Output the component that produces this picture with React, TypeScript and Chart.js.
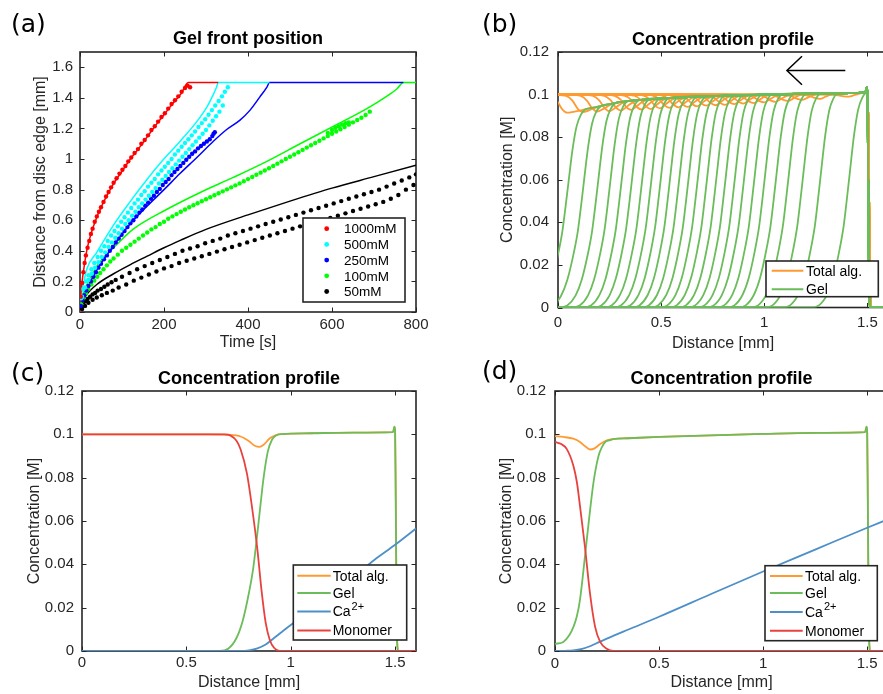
import React, { useEffect, useRef } from 'react';
import { Chart, registerables } from 'chart.js';

Chart.register(...registerables);

const FONT = '"Liberation Sans", Arial, Helvetica, sans-serif';
const LABEL_FONT = '"DejaVu Sans", Verdana, sans-serif';
const AXIS_COLOR = '#262626';

// ---------------- Panel (a): gel front position ----------------
const timeTicks = [0, 200, 400, 600, 800];
const frontTicks = [0, 0.2, 0.4, 0.6, 0.8, 1, 1.2, 1.4, 1.6];
const caLabels = ['1000mM', '500mM', '250mM', '100mM', '50mM'];
const caColors = ['#ff0000', '#00ffff', '#0000ff', '#00ff00', '#000000'];

const model1000T = [0, 2, 5, 10, 16, 25, 40, 60, 80, 100, 120, 140, 160, 180, 200, 220, 240, 258, 329];
const model1000D = [0, 0.12, 0.2, 0.3, 0.4, 0.5, 0.62, 0.74, 0.84, 0.92, 1.0, 1.07, 1.145, 1.22, 1.29, 1.36, 1.425, 1.5, 1.5];
const model500T = [0, 3, 8, 16, 40, 79, 119, 159, 198, 238, 278, 302, 317, 325, 329, 451];
const model500D = [0, 0.1, 0.18, 0.28, 0.39, 0.565, 0.72, 0.865, 0.995, 1.115, 1.245, 1.34, 1.42, 1.47, 1.5, 1.5];
const model250T = [0, 5, 16, 40, 79, 119, 159, 200, 238, 280, 317, 350, 381, 405, 428, 445, 451, 770];
const model250D = [0, 0.07, 0.145, 0.275, 0.43, 0.575, 0.69, 0.8, 0.905, 1.015, 1.115, 1.195, 1.255, 1.32, 1.405, 1.47, 1.5, 1.5];
const model100T = [0, 5, 15, 40, 80, 126, 206, 285, 365, 445, 524, 604, 683, 730, 755, 770, 800];
const model100D = [0, 0.09, 0.17, 0.3, 0.42, 0.54, 0.67, 0.78, 0.88, 0.985, 1.1, 1.215, 1.33, 1.41, 1.46, 1.5, 1.5];
const model50T = [0, 5, 15, 40, 80, 120, 160, 200, 240, 300, 400, 500, 600, 700, 800];
const model50D = [0, 0.06, 0.11, 0.18, 0.25, 0.31, 0.365, 0.42, 0.47, 0.54, 0.635, 0.725, 0.81, 0.885, 0.96];

const exp1000T = [2, 5, 8, 11, 14, 18, 22, 26, 30, 35, 40, 45, 50, 56, 62, 68, 74, 80, 87, 94, 101, 108, 115, 122, 130, 138, 146, 154, 162, 170, 178, 186, 194, 202, 210, 218, 226, 234, 242, 250, 256, 262];
const exp1000D = [0.1, 0.19, 0.26, 0.32, 0.37, 0.42, 0.465, 0.51, 0.545, 0.59, 0.625, 0.655, 0.685, 0.72, 0.755, 0.785, 0.815, 0.845, 0.875, 0.905, 0.93, 0.955, 0.985, 1.01, 1.04, 1.065, 1.1, 1.125, 1.155, 1.19, 1.215, 1.245, 1.275, 1.3, 1.33, 1.36, 1.385, 1.41, 1.44, 1.465, 1.48, 1.47];

const exp500aT = [3, 8, 14, 20, 27, 34, 42, 50, 58, 66, 74, 82, 90, 98, 106, 114, 122, 130, 138, 146, 154, 162, 170, 178, 186, 194, 202, 210, 218, 226, 234, 242, 250, 258, 266, 274, 282, 290, 298, 306, 314, 322, 330, 338, 345, 352];
const exp500aD = [0.09, 0.15, 0.2, 0.24, 0.28, 0.32, 0.36, 0.4, 0.43, 0.465, 0.5, 0.53, 0.56, 0.59, 0.62, 0.65, 0.68, 0.71, 0.735, 0.765, 0.79, 0.82, 0.845, 0.87, 0.9, 0.925, 0.95, 0.975, 1.0, 1.03, 1.055, 1.08, 1.105, 1.13, 1.155, 1.18, 1.21, 1.235, 1.26, 1.29, 1.32, 1.35, 1.38, 1.41, 1.44, 1.47];
const exp500bT = [5, 12, 20, 28, 36, 44, 52, 60, 68, 76, 84, 92, 100, 108, 116, 124, 132, 140, 148, 156, 164, 172, 180, 188, 196, 204, 212, 220, 228, 236, 244, 252, 260, 268, 276, 284, 292, 300, 308, 316, 324, 332, 340];
const exp500bD = [0.1, 0.16, 0.21, 0.25, 0.29, 0.325, 0.36, 0.39, 0.425, 0.455, 0.485, 0.515, 0.545, 0.575, 0.6, 0.63, 0.655, 0.685, 0.71, 0.735, 0.76, 0.785, 0.81, 0.84, 0.865, 0.89, 0.915, 0.94, 0.965, 0.99, 1.015, 1.04, 1.065, 1.09, 1.115, 1.14, 1.165, 1.19, 1.22, 1.25, 1.28, 1.31, 1.35];

const exp250T = [2, 6, 10, 15, 20, 26, 32, 38, 44, 50, 57, 64, 71, 78, 85, 92, 99, 106, 113, 120, 127, 134, 141, 148, 155, 162, 169, 176, 183, 190, 197, 204, 211, 218, 225, 232, 239, 246, 253, 260, 267, 274, 281, 288, 295, 302, 309, 315, 318, 321];
const exp250D = [0.04, 0.08, 0.11, 0.14, 0.17, 0.2, 0.23, 0.26, 0.29, 0.315, 0.345, 0.37, 0.4, 0.425, 0.455, 0.48, 0.505, 0.53, 0.555, 0.58, 0.6, 0.625, 0.65, 0.67, 0.695, 0.715, 0.74, 0.76, 0.785, 0.805, 0.83, 0.85, 0.87, 0.895, 0.915, 0.935, 0.955, 0.975, 0.995, 1.015, 1.035, 1.05, 1.07, 1.085, 1.1, 1.115, 1.13, 1.15, 1.165, 1.175];

const exp100aT = [3, 8, 14, 20, 27, 34, 41, 48, 56, 64, 72, 80, 90, 100, 110, 120, 130, 140, 150, 160, 170, 180, 190, 200, 210, 220, 230, 240, 250, 260, 270, 280, 290, 300, 310, 320, 330, 340, 350, 360, 370, 380, 390, 400, 410, 420, 430, 440, 450, 460, 470, 480, 490, 500, 510, 520, 530, 540, 550, 560, 570, 580, 590, 600, 610, 620, 630, 640, 650, 660, 670, 680, 690];
const exp100aD = [0.05, 0.09, 0.12, 0.15, 0.18, 0.205, 0.23, 0.255, 0.28, 0.305, 0.33, 0.35, 0.375, 0.4, 0.42, 0.44, 0.46, 0.48, 0.5, 0.52, 0.54, 0.555, 0.575, 0.59, 0.61, 0.625, 0.64, 0.655, 0.67, 0.685, 0.698, 0.711, 0.724, 0.737, 0.75, 0.763, 0.776, 0.789, 0.802, 0.815, 0.828, 0.841, 0.855, 0.869, 0.883, 0.897, 0.911, 0.925, 0.94, 0.955, 0.97, 0.985, 1.0, 1.015, 1.03, 1.045, 1.06, 1.075, 1.09, 1.105, 1.12, 1.135, 1.15, 1.165, 1.18, 1.195, 1.21, 1.225, 1.24, 1.255, 1.27, 1.288, 1.31];
const exp100bT = [590, 600, 608, 616, 624, 632, 640];
const exp100bD = [1.17, 1.19, 1.205, 1.215, 1.225, 1.235, 1.24];

const exp50aT = [3, 8, 13, 18, 24, 30, 36, 42, 50, 58, 66, 75, 85, 100, 118, 136, 154, 172, 190, 208, 226, 244, 262, 280, 298, 316, 334, 352, 370, 388, 406, 424, 442, 460, 478, 496, 514, 532, 550, 568, 586, 604, 622, 640, 658, 676, 694, 712, 730, 748, 766, 784, 800];
const exp50aD = [0.03, 0.05, 0.07, 0.085, 0.1, 0.115, 0.125, 0.14, 0.15, 0.165, 0.18, 0.195, 0.21, 0.23, 0.255, 0.28, 0.3, 0.32, 0.34, 0.36, 0.38, 0.4, 0.415, 0.43, 0.45, 0.465, 0.48, 0.5, 0.515, 0.53, 0.545, 0.56, 0.575, 0.59, 0.605, 0.62, 0.635, 0.65, 0.665, 0.68, 0.695, 0.71, 0.725, 0.74, 0.755, 0.77, 0.785, 0.8, 0.82, 0.84, 0.86, 0.88, 0.9];
const exp50bT = [5, 12, 20, 30, 40, 52, 64, 78, 92, 110, 128, 146, 164, 182, 200, 218, 236, 254, 272, 290, 308, 326, 344, 362, 380, 398, 416, 434, 452, 470, 488, 506, 524, 542, 560, 578, 596, 614, 632, 650, 668, 686, 704, 722, 740, 758, 776, 794];
const exp50bD = [0.02, 0.04, 0.06, 0.08, 0.095, 0.11, 0.125, 0.14, 0.16, 0.18, 0.205, 0.225, 0.245, 0.265, 0.285, 0.3, 0.32, 0.335, 0.35, 0.365, 0.38, 0.395, 0.41, 0.425, 0.44, 0.455, 0.47, 0.485, 0.5, 0.515, 0.53, 0.545, 0.56, 0.575, 0.59, 0.6, 0.615, 0.63, 0.645, 0.66, 0.675, 0.69, 0.705, 0.72, 0.74, 0.765, 0.8, 0.83];

// ---------------- Panels (b)-(d): concentration profiles ----------------
const distTicks = [0, 0.5, 1, 1.5];
const concTicks = [0, 0.02, 0.04, 0.06, 0.08, 0.1, 0.12];
const profileLabels = ['Total alg.', 'Gel', 'Ca', 'Monomer'];
const profileSup = ['', '', '2+', ''];
const profileColors = ['#ff9a33', '#6abd5a', '#4d8fc8', '#e8423e'];

// (b) gel front positions (x where gel = 0.05 M) and total-alginate dip minima
const gelFronts = [0.035, 0.11, 0.18, 0.24, 0.295, 0.345, 0.395, 0.44, 0.485, 0.53, 0.575, 0.62, 0.665, 0.71, 0.755, 0.8, 0.845, 0.89, 0.94, 0.99, 1.045, 1.105, 1.175, 1.26, 1.4];
const totalDips = [0.0915, 0.0918, 0.092, 0.0922, 0.0925, 0.0928, 0.093, 0.0932, 0.0935, 0.0938, 0.094, 0.0942, 0.0945, 0.0948, 0.095, 0.0952, 0.0955, 0.0958, 0.096, 0.0963, 0.0966, 0.097, 0.0975, 0.098, 0.099];
// gel plateau behind the fronts in (b)
const plateauX = [0, 0.1, 0.15, 0.2, 0.25, 0.3, 0.4, 0.55, 0.75, 1.0, 1.3, 1.49, 1.497, 1.5];
const plateauY = [0.092, 0.0925, 0.0935, 0.0945, 0.0955, 0.0965, 0.0975, 0.0985, 0.0993, 0.1, 0.1005, 0.101, 0.1035, 0.101];
const gelDropX = [1.503, 1.508, 1.515, 1.6];
const gelDropY = [0.07, 0.01, 0, 0];
const totalDropX = [1.506, 1.511, 1.514, 1.52, 1.6];
const totalDropY = [0.08, 0.02, 0.004, 0, 0];
// front shape read from a single profile (offset from front, fraction of plateau)
const gelRiseDx = [-0.175, -0.135, -0.095, -0.065, -0.035, -0.015, 0, 0.015, 0.035, 0.055, 0.075, 0.1];
const gelRiseFrac = [0, 0.01, 0.06, 0.14, 0.27, 0.38, 0.5, 0.63, 0.8, 0.92, 0.975, 1];
const totalDipDx = [-0.13, -0.07, -0.04, -0.015, 0.01];
const totalDipFrac = [0, 0.08, 0.35, 0.8, 1];
const totalRecDx = [0.04, 0.07, 0.1];
const totalRecFrac = [0.45, 0.85, 1];
const arrowShaftX = [1.393, 1.11];
const arrowShaftY = [0.1113, 0.1113];
const arrowHeadX = [1.183, 1.11, 1.183];
const arrowHeadY = [0.118, 0.1113, 0.1046];

// (c)
const cTotalX = [0, 0.6, 0.7, 0.76, 0.8, 0.83, 0.85, 0.87, 0.9, 0.93, 0.96, 1.1, 1.3, 1.49, 1.497, 1.5, 1.503, 1.508, 1.515, 1.6];
const cTotalY = [0.1, 0.1, 0.0998, 0.099, 0.0968, 0.0946, 0.0942, 0.0952, 0.0982, 0.0997, 0.1001, 0.1005, 0.1008, 0.101, 0.1035, 0.101, 0.07, 0.01, 0, 0];
const cGelX = [0, 0.66, 0.7, 0.74, 0.77, 0.8, 0.82, 0.835, 0.85, 0.87, 0.89, 0.91, 0.93, 0.96, 1.1, 1.3, 1.49, 1.497, 1.5, 1.503, 1.508, 1.515, 1.6];
const cGelY = [0, 0, 0.001, 0.006, 0.014, 0.027, 0.038, 0.05, 0.063, 0.08, 0.092, 0.0975, 0.0995, 0.1001, 0.1005, 0.1008, 0.101, 0.1035, 0.101, 0.07, 0.01, 0, 0];
const cCaX = [0, 0.76, 0.8, 0.84, 0.88, 0.92, 0.96, 1.0, 1.1, 1.2, 1.3, 1.4, 1.5, 1.6];
const cCaY = [0, 0, 0.0003, 0.0012, 0.003, 0.006, 0.009, 0.012, 0.019, 0.027, 0.034, 0.042, 0.049, 0.0565];
const cMonoX = [0, 0.68, 0.71, 0.74, 0.76, 0.79, 0.815, 0.84, 0.86, 0.88, 0.9, 0.92, 0.94, 0.96, 1.6];
const cMonoY = [0.1, 0.1, 0.0995, 0.097, 0.093, 0.082, 0.066, 0.047, 0.028, 0.013, 0.005, 0.0015, 0.0002, 0, 0];

// (d)
const dTotalX = [0, 0.04, 0.088, 0.12, 0.145, 0.168, 0.19, 0.217, 0.249, 0.28, 0.35, 0.5, 0.75, 1.0, 1.25, 1.49, 1.497, 1.5, 1.503, 1.508, 1.515, 1.6];
const dTotalY = [0.0992, 0.0988, 0.098, 0.0965, 0.0945, 0.093, 0.0935, 0.0955, 0.0972, 0.0978, 0.0982, 0.0988, 0.0995, 0.1002, 0.1007, 0.101, 0.1035, 0.101, 0.07, 0.01, 0, 0];
const dGelX = [0, 0.04, 0.07, 0.088, 0.105, 0.12, 0.144, 0.16, 0.185, 0.209, 0.225, 0.241, 0.26, 0.28, 0.35, 0.5, 0.75, 1.0, 1.25, 1.49, 1.497, 1.5, 1.503, 1.508, 1.515, 1.6];
const dGelY = [0.0033, 0.0042, 0.0075, 0.011, 0.016, 0.0236, 0.0437, 0.0577, 0.0778, 0.09, 0.094, 0.0964, 0.0972, 0.0978, 0.0982, 0.0988, 0.0995, 0.1002, 0.1007, 0.101, 0.1035, 0.101, 0.07, 0.01, 0, 0];
const dCaX = [0, 0.05, 0.088, 0.13, 0.168, 0.2, 0.249, 0.35, 0.5, 0.75, 1.0, 1.25, 1.5, 1.6];
const dCaY = [0, 0.0001, 0.0003, 0.001, 0.0022, 0.0036, 0.0057, 0.0098, 0.0158, 0.0263, 0.0367, 0.0468, 0.0569, 0.0608];
const dMonoX = [0, 0.03, 0.056, 0.088, 0.105, 0.12, 0.144, 0.168, 0.193, 0.217, 0.249, 0.28, 1.6];
const dMonoY = [0.0965, 0.0955, 0.0933, 0.0856, 0.078, 0.067, 0.048, 0.0267, 0.011, 0.0042, 0.001, 0, 0];

// ---------------- helpers ----------------
const pts = (xs: number[], ys: number[]) => xs.map((x, i) => ({ x, y: ys[i] }));

function levelAt(x: number) {
  if (x <= plateauX[0]) return plateauY[0];
  for (let i = 1; i < plateauX.length; i++) {
    if (x <= plateauX[i]) {
      const f = (x - plateauX[i - 1]) / (plateauX[i] - plateauX[i - 1]);
      return plateauY[i - 1] + f * (plateauY[i] - plateauY[i - 1]);
    }
  }
  return plateauY[plateauY.length - 1];
}

function gelCurve(front: number) {
  const out: any[] = [];
  if (front + gelRiseDx[0] > 0) out.push({ x: 0, y: 0 });
  gelRiseDx.forEach((dx, j) => out.push({ x: front + dx, y: gelRiseFrac[j] * levelAt(front + dx) }));
  const last = front + gelRiseDx[gelRiseDx.length - 1];
  plateauX.forEach((x, j) => { if (x > last + 0.01) out.push({ x, y: plateauY[j] }); });
  return out.concat(pts(gelDropX, gelDropY));
}

function totalCurve(front: number, dip: number) {
  const out: any[] = [];
  if (front + totalDipDx[0] > 0) out.push({ x: 0, y: 0.1 });
  totalDipDx.forEach((dx, j) => out.push({ x: front + dx, y: 0.1 - totalDipFrac[j] * (0.1 - dip) }));
  totalRecDx.forEach((dx, j) => out.push({ x: front + dx, y: dip + totalRecFrac[j] * (levelAt(front + dx) - dip) }));
  const last = front + totalRecDx[totalRecDx.length - 1];
  plateauX.forEach((x, j) => { if (x > last + 0.01) out.push({ x, y: plateauY[j] }); });
  return out.concat(pts(totalDropX, totalDropY));
}

const fmtTick = (v: number) => String(Number(Number(v).toFixed(4)));

const framePlugin = {
  id: 'matlabFrame',
  beforeDatasetsDraw(chart: any) {
    const { ctx, chartArea: a, scales } = chart;
    const xs = scales.x;
    const ys = scales.y;
    const T = 4.5;
    ctx.save();
    ctx.strokeStyle = AXIS_COLOR;
    ctx.lineWidth = 1;
    ctx.beginPath();
    xs.ticks.forEach((t: any) => {
      const px = Math.round(xs.getPixelForValue(t.value)) + 0.5;
      ctx.moveTo(px, a.bottom); ctx.lineTo(px, a.bottom - T);
      ctx.moveTo(px, a.top); ctx.lineTo(px, a.top + T);
    });
    ys.ticks.forEach((t: any) => {
      const py = Math.round(ys.getPixelForValue(t.value)) + 0.5;
      ctx.moveTo(a.left, py); ctx.lineTo(a.left + T, py);
      ctx.moveTo(a.right, py); ctx.lineTo(a.right - T, py);
    });
    ctx.stroke();
    ctx.lineWidth = 1.6;
    ctx.strokeRect(a.left, a.top, a.right - a.left, a.bottom - a.top);
    ctx.restore();
  },
};

function legendPlugin(cfg: any) {
  return {
    id: 'boxLegend',
    afterDraw(chart: any) {
      const ctx = chart.ctx;
      ctx.save();
      ctx.fillStyle = '#ffffff';
      ctx.fillRect(cfg.x, cfg.y, cfg.w, cfg.h);
      ctx.strokeStyle = AXIS_COLOR;
      ctx.lineWidth = 1.6;
      ctx.strokeRect(cfg.x, cfg.y, cfg.w, cfg.h);
      cfg.labels.forEach((label: string, i: number) => {
        const cy = cfg.rows[i];
        if (cfg.marker) {
          ctx.fillStyle = cfg.colors[i];
          ctx.beginPath();
          ctx.arc(cfg.markX, cy, 2.4, 0, Math.PI * 2);
          ctx.fill();
        } else {
          ctx.strokeStyle = cfg.colors[i];
          ctx.lineWidth = 2;
          ctx.beginPath();
          ctx.moveTo(cfg.lineX0, cy);
          ctx.lineTo(cfg.lineX1, cy);
          ctx.stroke();
        }
        ctx.fillStyle = '#000000';
        ctx.textAlign = 'left';
        ctx.textBaseline = 'middle';
        ctx.font = `${cfg.fontSize}px ${FONT}`;
        ctx.fillText(label, cfg.textX, cy + 1);
        const sup = cfg.sups ? cfg.sups[i] : '';
        if (sup) {
          const w = ctx.measureText(label).width;
          ctx.font = `${Math.round(cfg.fontSize * 0.75)}px ${FONT}`;
          ctx.fillText(sup, cfg.textX + w + 1, cy - 5);
        }
      });
      ctx.restore();
    },
  };
}

function buildConfig(p: any) {
  return {
    type: 'scatter',
    data: { datasets: p.datasets },
    options: {
      animation: false,
      responsive: false,
      devicePixelRatio: 1,
      events: [],
      layout: { padding: p.padding },
      plugins: {
        legend: { display: false },
        tooltip: { enabled: false },
        title: {
          display: true,
          text: p.title,
          fullSize: false,
          color: '#000000',
          font: { family: FONT, size: 18, weight: 'bold' },
          padding: { top: 0, bottom: p.titleGap },
        },
      },
      scales: {
        x: {
          type: 'linear',
          min: p.xMin,
          max: p.xMax,
          grid: { display: false, drawTicks: false },
          border: { display: false },
          afterBuildTicks: (s: any) => { s.ticks = p.xTicks.map((v: number) => ({ value: v })); },
          afterFit: (s: any) => { s.height = p.xHeight; },
          ticks: { padding: p.xTickPad, color: AXIS_COLOR, font: { family: FONT, size: 15 }, maxRotation: 0, autoSkip: false, callback: (v: any) => fmtTick(v) },
          title: { display: true, text: p.xTitle, color: AXIS_COLOR, font: { family: FONT, size: 16 }, padding: { top: 0, bottom: p.xTitlePad } },
        },
        y: {
          type: 'linear',
          min: p.yMin,
          max: p.yMax,
          grid: { display: false, drawTicks: false },
          border: { display: false },
          afterBuildTicks: (s: any) => { s.ticks = p.yTicks.map((v: number) => ({ value: v })); },
          afterFit: (s: any) => { s.width = p.yWidth; },
          ticks: { padding: p.yTickPad, color: AXIS_COLOR, font: { family: FONT, size: 15 }, autoSkip: false, callback: (v: any) => fmtTick(v) },
          title: { display: true, text: p.yTitle, color: AXIS_COLOR, font: { family: FONT, size: 16 }, padding: { top: p.yTitlePad, bottom: 0 } },
        },
      },
    },
    plugins: [framePlugin, legendPlugin(p.legend)],
  };
}

const lineDs = (data: any[], color: string, width: number, order: number, smooth = true) => ({
  data,
  showLine: true,
  borderColor: color,
  backgroundColor: color,
  borderWidth: width,
  pointRadius: 0,
  cubicInterpolationMode: smooth ? 'monotone' : 'default',
  tension: 0,
  order,
});

const dotDs = (data: any[], color: string, order: number) => ({
  data,
  showLine: false,
  backgroundColor: color,
  borderWidth: 0,
  pointRadius: 2.2,
  order,
});

// ---------------- panel configs ----------------
function configA() {
  const models = [
    pts(model1000T, model1000D), pts(model500T, model500D), pts(model250T, model250D),
    pts(model100T, model100D), pts(model50T, model50D),
  ];
  const exps = [
    [pts(exp1000T, exp1000D)],
    [pts(exp500aT, exp500aD), pts(exp500bT, exp500bD)],
    [pts(exp250T, exp250D)],
    [pts(exp100aT, exp100aD), pts(exp100bT, exp100bD)],
    [pts(exp50aT, exp50aD), pts(exp50bT, exp50bD)],
  ];
  const datasets: any[] = [];
  exps.forEach((runs, i) => runs.forEach((r) => datasets.push(dotDs(r, caColors[i], 1 + i))));
  models.forEach((m, i) => datasets.push(lineDs(m, caColors[i], 1.5, 10 + i)));
  return buildConfig({
    datasets,
    title: 'Gel front position',
    titleGap: 2.2,
    padding: { top: 28.2, right: 24, bottom: 0, left: 0 },
    xMin: 0, xMax: 800, xTicks: timeTicks, xTitle: 'Time [s]', xHeight: 43, xTickPad: 4, xTitlePad: 2.4,
    yMin: 0, yMax: 1.7, yTicks: frontTicks, yTitle: 'Distance from disc edge [mm]', yWidth: 80, yTickPad: 7, yTitlePad: 31.4,
    legend: {
      x: 303, y: 218, w: 102, h: 84, marker: true, markX: 326.7, textX: 344, fontSize: 13.5,
      rows: [228.7, 244.4, 260.1, 275.8, 291.5], labels: caLabels, colors: caColors,
    },
  });
}

function configB() {
  const datasets: any[] = [];
  datasets.push(lineDs(pts(arrowShaftX, arrowShaftY), '#000000', 1.5, 0, false));
  datasets.push(lineDs(pts(arrowHeadX, arrowHeadY), '#000000', 1.5, 0, false));
  gelFronts.forEach((f) => datasets.push(lineDs(gelCurve(f), profileColors[1], 1.8, 1)));
  gelFronts.forEach((f, i) => datasets.push(lineDs(totalCurve(f, totalDips[i]), profileColors[0], 1.8, 2)));
  return buildConfig({
    datasets,
    title: 'Concentration profile',
    titleGap: 1.5,
    padding: { top: 28.9, right: 2, bottom: 0, left: 0 },
    xMin: 0, xMax: 1.6, xTicks: distTicks, xTitle: 'Distance [mm]', xHeight: 47.5, xTickPad: 6, xTitlePad: 1.4,
    yMin: 0, yMax: 0.12, yTicks: concTicks, yTitle: 'Concentration [M]', yWidth: 118, yTickPad: 9, yTitlePad: 57.9,
    legend: {
      x: 326, y: 261, w: 112.3, h: 35.7, marker: false, lineX0: 331.7, lineX1: 363.3, textX: 366, fontSize: 14,
      rows: [270.7, 289.3], labels: profileLabels.slice(0, 2), colors: profileColors.slice(0, 2),
    },
  });
}

function configProfile(tX: number[], tY: number[], gX: number[], gY: number[], caX: number[], caY: number[], mX: number[], mY: number[], side: 'left' | 'right') {
  const datasets = [
    lineDs(pts(tX, tY), profileColors[0], 1.8, 4),
    lineDs(pts(gX, gY), profileColors[1], 1.8, 3),
    lineDs(pts(caX, caY), profileColors[2], 1.8, 2),
    lineDs(pts(mX, mY), profileColors[3], 1.8, 1),
  ];
  const left = side === 'left';
  return buildConfig({
    datasets,
    title: 'Concentration profile',
    titleGap: 1.2,
    padding: { top: 18.2, right: left ? 24 : 2, bottom: 0, left: 0 },
    xMin: 0, xMax: 1.6, xTicks: distTicks, xTitle: 'Distance [mm]', xHeight: 44, xTickPad: left ? 3 : 4, xTitlePad: 2.9,
    yMin: 0, yMax: 0.12, yTicks: concTicks, yTitle: 'Concentration [M]', yWidth: left ? 82 : 115, yTickPad: left ? 8 : 9, yTitlePad: left ? 25.4 : 57.1,
    legend: left
      ? { x: 293.3, y: 215, w: 113.4, h: 75, marker: false, lineX0: 297.3, lineX1: 330.7, textX: 332.7, fontSize: 14, rows: [225.7, 243, 261.5, 280.5], labels: profileLabels, sups: profileSup, colors: profileColors }
      : { x: 325, y: 215.7, w: 112.3, h: 75, marker: false, lineX0: 330, lineX1: 362.7, textX: 365, fontSize: 14, rows: [226, 243, 262, 280.7], labels: profileLabels, sups: profileSup, colors: profileColors },
  });
}

function Panel(props: { left: number; top: number; width: number; height: number; make: () => any }) {
  const ref = useRef<HTMLCanvasElement | null>(null);
  useEffect(() => {
    const chart = new Chart(ref.current as HTMLCanvasElement, props.make());
    return () => chart.destroy();
  }, []);
  return (
    <canvas
      ref={ref}
      width={props.width}
      height={props.height}
      style={{ position: 'absolute', left: props.left, top: props.top, width: props.width, height: props.height }}
    />
  );
}

const labelStyle = (left: number, top: number): any => ({
  position: 'absolute', left, top, fontFamily: LABEL_FONT, fontSize: 25, lineHeight: '25px', color: '#000', whiteSpace: 'pre',
});

export default function App() {
  return (
    <div style={{ position: 'fixed', left: 0, top: 0, width: 883, height: 694, overflow: 'hidden', background: '#ffffff' }}>
      <Panel left={0} top={0} width={440} height={355} make={configA} />
      <Panel left={440} top={0} width={450} height={355} make={configB} />
      <Panel left={0} top={350} width={440} height={345} make={() => configProfile(cTotalX, cTotalY, cGelX, cGelY, cCaX, cCaY, cMonoX, cMonoY, 'left')} />
      <Panel left={440} top={350} width={450} height={345} make={() => configProfile(dTotalX, dTotalY, dGelX, dGelY, dCaX, dCaY, dMonoX, dMonoY, 'right')} />
      <div style={labelStyle(11, 10.5)}>(a)</div>
      <div style={labelStyle(482, 10.5)}>(b)</div>
      <div style={labelStyle(11, 359.5)}>(c)</div>
      <div style={labelStyle(482, 358)}>(d)</div>
    </div>
  );
}
